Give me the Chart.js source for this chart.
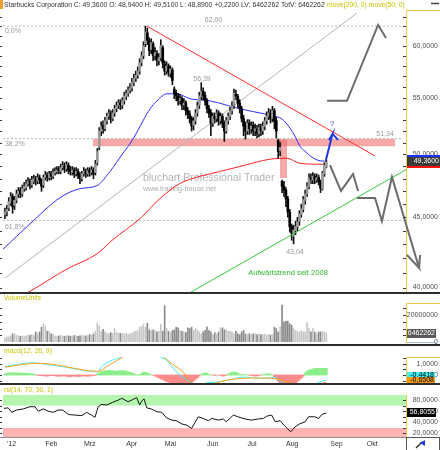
<!DOCTYPE html>
<html><head><meta charset="utf-8">
<script src="https://cdn.jsdelivr.net/npm/chart.js@4.4.1/dist/chart.umd.min.js"></script>
<style>
html,body{margin:0;padding:0;background:#fff;overflow:hidden}
#wrap{position:relative;width:440px;height:450px;background:#fff;overflow:hidden}
#wrap canvas{position:absolute;left:0}
.sep{position:absolute;left:0;width:440px;background:#2e2e2e}
</style></head><body>
<div id="wrap">
<canvas id="cMain" width="440" height="293" style="top:0px"></canvas>
<canvas id="cVol" width="440" height="50" style="top:294px"></canvas>
<canvas id="cMacd" width="440" height="38" style="top:346px"></canvas>
<canvas id="cRsi" width="440" height="65" style="top:385px"></canvas>
<div class="sep" style="top:292px;height:2px"></div>
<div class="sep" style="top:344px;height:2px"></div>
<div class="sep" style="top:383px;height:2px"></div>
</div>
<script>
// ================= DATA =================
const company = 'Starbucks Corporation';
const monthLabels = ["'12","Feb","Mrz","Apr","Mai","Jun","Jul","Aug","Sep","Okt"];
const monthStartIndex = [0,20,40,62,82,104,125,145,168,187];
const priceTicks = [40,45,50,55,60];
const priceMinorTicks = [40,41,42,43,44,45,46,47,48,49,50,51,52,53,54,55,56,57,58,59,60,61,62,63];
const volumeTicksMillions = [0,20];
const volumeMinorTicks = [0,5,10,15,20,25];
const macdTicks = [0,1];
const macdMinorTicks = [-0.5,0,0.5,1,1.5];
const rsiTicks = [20,40,60,80];
const rsiMinorTicks = [20,30,40,50,60,70,80];

const opens = [45.2,45.4,45.7,46.1,46.6,45.9,46.3,46.8,47.1,46.8,
47.2,47.3,47.6,47.8,47.5,47.8,48.0,47.8,48.1,47.9,
47.5,48.1,48.3,48.1,48.4,48.2,48.5,48.6,48.8,48.6,
48.9,49.1,48.8,49.1,48.7,48.5,48.7,48.4,48.6,48.3,
48.0,48.4,48.6,48.4,48.7,48.5,48.7,48.5,49.3,50.6,
52.0,52.5,52.2,52.9,53.3,53.6,53.1,53.6,54.0,54.3,
54.5,54.3,54.7,55.1,55.4,55.7,55.9,56.4,56.8,57.1,
57.5,58.3,59.0,60.2,61.3,60.5,59.6,60.2,59.0,59.2,
58.5,58.8,59.8,58.2,57.5,58.0,57.3,57.6,55.8,55.4,
55.1,54.7,54.9,54.3,54.5,53.8,53.5,53.1,52.5,52.9,
53.6,54.3,55.1,55.6,55.2,54.7,54.0,53.6,52.7,53.3,
53.1,53.6,52.9,53.3,52.7,52.0,52.9,53.3,53.8,54.3,
55.3,55.1,54.5,54.0,53.1,52.5,52.0,52.7,52.2,52.5,
52.0,52.2,51.8,52.3,52.0,52.4,52.9,53.3,53.6,53.1,
53.8,52.9,51.2,50.3,47.8,47.4,47.1,46.4,45.4,44.3,
43.6,44.0,44.3,44.7,45.2,45.6,46.3,46.8,47.4,48.1,
47.9,48.2,47.9,48.1,47.8,47.2,48.4,48.94];
const highs = [45.7,45.9,46.5,46.9,46.8,46.6,47.1,47.3,47.3,47.5,
47.7,47.9,48.1,48.0,48.2,48.3,48.2,48.4,48.3,48.0,
48.3,48.6,48.5,48.6,48.6,48.8,48.9,49.0,49.0,49.2,
49.4,49.3,49.4,49.3,49.0,49.0,48.9,48.9,48.8,48.5,
48.6,48.9,48.8,48.9,48.9,49.0,48.9,49.5,50.5,52.3,
52.8,52.9,53.2,53.6,53.9,53.8,53.9,54.3,54.6,54.8,
54.8,55.0,55.5,55.7,56.0,56.3,56.8,57.2,57.5,57.9,
58.7,59.4,60.4,62.0,61.8,60.8,60.7,60.4,59.8,59.5,
59.2,60.6,60.0,58.5,58.4,58.2,58.0,57.8,56.0,55.7,
55.4,55.3,55.1,54.9,54.7,54.1,53.8,53.3,53.2,53.9,
54.6,55.5,56.39,55.9,55.5,54.9,54.3,53.9,53.6,53.6,
53.9,53.8,53.6,53.5,52.9,53.2,53.6,54.1,54.6,55.8,
55.7,55.3,54.8,54.2,53.4,52.8,53.0,53.0,52.8,52.8,
52.6,52.5,52.6,52.6,52.8,53.2,53.7,54.0,53.9,54.2,
54.0,53.2,51.3,51.0,47.9,47.8,47.3,46.6,45.6,44.5,
44.4,44.7,45.0,45.5,46.0,46.6,47.1,47.7,48.4,48.4,
48.5,48.4,48.4,48.3,47.9,48.6,49.3,49.51];
const lows = [44.9,45.1,45.5,45.9,45.3,45.6,46.1,46.5,46.5,46.6,
47.0,47.1,47.4,47.2,47.3,47.6,47.5,47.6,47.6,47.0,
47.3,47.9,47.8,47.9,47.9,48.0,48.3,48.4,48.4,48.4,
48.7,48.5,48.6,48.4,48.3,48.3,48.1,48.2,48.0,47.6,
47.8,48.2,48.1,48.2,48.2,48.3,48.0,48.3,49.1,50.4,
51.6,51.8,52.0,52.6,53.0,52.7,52.9,53.3,53.7,54.0,
53.9,54.0,54.4,54.8,55.1,55.4,55.6,56.1,56.5,56.8,
57.2,58.0,58.7,59.9,60.1,59.0,59.2,58.5,58.6,58.0,
58.1,58.5,57.8,57.1,57.2,57.0,56.9,56.2,54.9,54.7,
54.3,54.4,53.9,53.9,53.4,53.1,52.7,52.0,52.1,52.6,
53.3,54.0,54.8,54.8,54.3,53.6,53.2,51.6,52.4,52.7,
52.8,52.5,52.6,52.3,51.1,51.8,52.6,53.0,53.5,54.0,
54.8,54.1,53.6,52.8,51.6,51.3,51.7,51.7,51.8,51.6,
51.6,51.4,51.5,51.6,51.7,52.1,52.6,53.0,52.7,52.8,
52.2,51.4,49.7,49.9,46.9,46.6,45.8,45.0,43.9,43.3,
43.04,43.7,44.0,44.4,45.0,45.4,46.0,46.6,47.2,47.6,
47.6,47.6,47.7,47.5,46.9,47.1,48.2,48.89];
const closes = [45.4,45.6,46.2,46.6,45.8,46.3,46.8,47.0,46.8,47.2,
47.4,47.6,47.8,47.5,47.9,48.0,47.8,48.1,47.9,47.4,
48.1,48.3,48.1,48.4,48.2,48.5,48.6,48.7,48.65,48.9,
49.1,48.8,49.15,48.7,48.6,48.7,48.4,48.6,48.3,48.0,
48.4,48.6,48.4,48.65,48.5,48.7,48.4,49.2,50.25,52.0,
52.45,52.2,52.9,53.3,53.6,53.1,53.6,54.0,54.25,54.5,
54.35,54.7,55.15,55.4,55.7,55.9,56.4,56.8,57.1,57.5,
58.3,59.0,60.0,61.4,60.55,59.5,60.3,59.0,59.3,58.5,
58.8,60.0,58.3,57.5,58.0,57.4,57.7,56.6,55.4,55.15,
54.7,54.9,54.25,54.5,53.8,53.5,53.1,52.45,52.9,53.6,
54.25,55.15,55.6,55.15,54.7,54.0,53.6,52.7,53.3,53.1,
53.6,52.9,53.3,52.7,52.0,52.9,53.3,53.8,54.25,55.4,
55.15,54.5,54.0,53.1,52.45,52.0,52.7,52.2,52.45,52.0,
52.2,51.8,52.3,52.0,52.45,52.9,53.3,53.6,53.1,53.8,
52.9,52.0,50.25,50.6,47.4,47.1,46.4,45.4,44.3,43.8,
44.05,44.3,44.65,45.25,45.65,46.35,46.8,47.4,48.1,47.95,
48.2,47.95,48.1,47.8,47.25,48.45,49.14,49.36];
const volumesMillions = [3.0,3.8,3.8,4.5,6.0,6.2,5.0,4.5,4.3,4.5,
4.3,4.5,4.8,5.0,5.5,5.0,7.5,6.2,7.5,11.0,
13.5,12.0,8.0,8.0,6.0,5.5,4.5,4.0,4.5,5.0,
4.5,4.3,4.8,4.5,4.3,4.5,4.8,4.5,4.3,4.5,
4.8,4.7,4.5,5.0,5.5,5.0,6.0,8.0,14.0,12.0,
8.0,9.5,7.5,6.5,6.0,7.0,6.5,10.0,7.0,6.5,
6.5,6.5,6.0,6.5,5.5,6.0,6.5,7.5,8.0,8.5,
11.0,11.5,13.0,11.0,14.0,9.0,8.5,9.0,8.5,7.5,
8.0,13.0,8.0,27.0,10.0,8.0,7.0,8.5,9.0,11.0,
10.5,8.7,8.0,7.5,7.0,10.5,10.0,11.0,8.7,10.0,
9.0,7.5,6.2,7.5,8.7,11.2,8.7,7.5,5.5,7.0,
6.0,7.5,10.5,10.5,9.2,8.7,8.0,8.0,7.5,6.0,
8.0,6.2,5.5,7.5,8.7,6.0,5.5,6.2,5.5,6.0,
6.2,5.5,6.0,5.5,5.5,6.0,5.0,5.5,5.2,5.5,
11.0,10.0,7.5,11.5,27.5,15.0,15.5,15.5,13.5,12.5,
10.0,8.7,8.0,7.0,8.7,7.5,7.5,14.5,10.0,7.5,
10.0,7.5,6.2,7.5,7.5,8.0,7.5,6.462262];
// moving averages, [day index, price]
const ma50Points = [[-1,42.65],[13,44.5],[28.6,46.5],[39,47.21],[47.8,47.45],[54.6,48.59],[61.3,50.09],[66.5,51.29],[71.7,52.88],[75.4,53.97],[79,54.7],[84.2,55.35],[89.4,55.35],[96.2,54.89],[106.5,54.7],[122.1,53.97],[135.1,53.51],[139.3,53.33],[144,53.06],[148.1,52.26],[150.7,51.56],[153.3,50.69],[155.9,50.27],[159.6,49.76],[162.7,49.51],[167,49.43]];
const ma200Points = [[0,38.9],[12,39.67],[32.2,41.26],[47.8,42.32],[56.1,43.34],[70.2,44.9],[80.6,46.44],[91,47.63],[101.4,48.2],[111.7,48.59],[122.1,49.0],[137.7,49.6],[146.6,49.68],[153.3,49.26],[165.3,49.18],[167,49.17]];
// drawn analysis: trend lines, levels, zones, forecasts ([day index, price])
const longTrend = [[0,40.64],[182.95,63.38]];
const resistanceTrend = [[73.8,62.0],[192.3,49.87]];
const supportTrend = [[95,39.57],[208.4,48.74]];
const fibLevels = [62.00, 51.34, 44.76];
const fibLabels = ['0,0%','38,2%','61,8%'];
const resistanceZone = {from:45.7, to:202.7, low:50.7, high:51.34};
const gapZone = {from:142.9, to:146.6, low:48.06, high:51.23};
const forecastUp = [[167.4,54.7],[177.75,54.7],[193.9,62.12],[198,60.78]];
const forecastMid = [[168.9,49.12],[174.6,47.03],[180.9,48.39],[183.5,47.03]];
const forecastDown = [[182.95,46.48],[192.3,46.48],[195.9,44.72],[201.1,48.14],[215.2,41.33],[208.9,42.24],[215.2,41.33],[215.7,42.24]];
const blueArrow = [[166.8,49.54],[170.2,51.75],[168.4,51.23],[170.2,51.75],[173.1,51.23]];
// indicators
const macdPoints = [[0,0.76],[8,1.0],[15,1.12],[20,1.0],[32,0.7],[42,0.39],[48,0.3],[51,0.9],[56,1.36],[61.5,1.73],[66,2.6],[72,3.2],[76,2.8],[80,1.73],[84,1.36],[89,0.3],[94.5,-0.45],[98,-0.8],[102,-0.9],[105,-0.7],[110,-0.65],[115,-0.5],[119,-0.35],[122,-0.2],[126,-0.2],[130,-0.28],[136,-0.28],[140,-0.2],[143,-0.5],[147,-1.0],[152,-1.4],[158,-1.0],[162,-0.75],[165,-0.55],[167,-0.4418]];
const signalPoints = [[0,0.7],[15,1.05],[22,1.02],[29,0.85],[41,0.45],[48,0.33],[55,1.0],[62,1.73],[66,2.3],[72,2.8],[78,2.6],[82,1.73],[87,1.0],[93,0.2],[97,-0.8],[101,-1.0],[106,-0.9],[112,-0.6],[118,-0.4],[124,-0.3],[130,-0.28],[136,-0.28],[141,-0.35],[145,-0.55],[150,-0.8],[155,-1.0],[160,-0.95],[165,-0.75],[167,-0.6508]];
const macdHistogram = [0.12,0.15,0.18,0.2,0.2,0.18,0.2,0.2,0.18,0.18,0.16,0.15,0.14,0.12,0.1,0.08,0.05,
-0.03,-0.05,-0.06,-0.08,-0.1,-0.1,-0.08,-0.06,-0.05,-0.08,-0.1,-0.12,-0.1,-0.08,-0.1,-0.12,-0.15,-0.15,-0.12,-0.1,-0.12,-0.15,-0.12,-0.1,-0.08,-0.1,-0.12,-0.1,-0.08,-0.05,-0.03,
0.1,0.2,0.3,0.35,0.38,0.4,0.42,0.4,0.38,0.36,0.35,0.38,0.4,0.4,0.38,0.35,0.3,0.25,0.2,0.12,0.05,
0.0,0.05,0.15,0.25,0.25,0.2,0.1,0.02,-0.02,
-0.1,-0.18,-0.26,-0.34,-0.42,-0.5,-0.58,-0.64,-0.7,-0.8,-0.9,-1.0,-1.0,-1.0,-0.95,-0.9,-0.85,-0.8,-0.75,-0.7,-0.55,-0.4,-0.25,-0.1,
0.05,0.15,0.2,0.15,0.05,
0,-0.02,-0.03,-0.02,0,
-0.05,-0.1,-0.08,-0.03,
0.08,0.18,0.25,0.28,0.25,0.18,0.08,
0.02,0.05,0.03,0,-0.02,
-0.05,-0.08,-0.1,-0.08,-0.05,-0.02,
0.03,0.08,0.12,0.12,0.08,0.03,
-0.15,-0.35,-0.55,-0.75,-0.9,-1.0,-1.0,-1.0,-1.0,-0.95,-0.9,-0.8,-0.6,-0.45,-0.3,-0.12,
0.2,0.35,0.45,0.5,0.55,0.6,0.6,0.6,0.6,0.6,0.6,0.6];
const rsiPoints = [[-0.5,65],[1.7,66],[3.5,58],[6,62],[9.5,64],[13,68],[15.6,68],[17.3,60],[20,64],[22.5,60],[25,58],[27.7,62],[30,62],[33,54],[36.4,53],[40,52],[42.5,58],[45,53],[46.8,49],[48.5,68],[50,72],[53,71],[56,76],[59,80],[60.7,83],[64,77],[66,80],[67.6,83],[68.5,84],[70,71],[71,78],[72.3,82],[73.7,66],[76,64],[79,59],[81.5,58],[84,48],[86.7,44],[89,43],[92,37],[94.5,35],[97,29],[98.8,40],[100.5,50],[103,47],[105.7,43],[107.5,47],[111,44],[113.5,46],[115,41],[118.7,53],[121,50],[124.8,46],[128,44],[131.7,46],[134.3,47],[136,51],[138.6,53],[140.4,41],[143,43],[145,35],[147,28],[148.5,23],[150.8,32],[153,37],[156,41],[157.7,50],[161,50],[163,47],[164.6,54],[167,56.8055]];
const rsiUpper = 70, rsiLower = 30;
const lastMacd = -0.4418, lastSignal = -0.6508;

// ================= HELPERS =================
const FONT = '"Liberation Sans", Arial, sans-serif';
Chart.defaults.font.family = FONT;
Chart.defaults.font.size = 7;
const X_MIN = -1, X_MAX = 208.4;
const N = closes.length;
const dayIdx = closes.map((_, i) => i);
const fmt = (v, d) => v.toFixed(d).replace('.', ',');
const pts = arr => arr.map(([x, y]) => ({x, y}));
const mctx = document.createElement('canvas').getContext('2d');
function textW(s, size) { mctx.font = size + 'px ' + FONT; return mctx.measureText(s).width; }
function fitSize(s, w) { return 7 * w / textW(s, 7); }
function txt(ctx, s, x, y, o) {
  o = o || {};
  ctx.save();
  ctx.font = (o.w || '') + ' ' + (o.s || 7) + 'px ' + FONT;
  ctx.fillStyle = o.c || '#999';
  ctx.textAlign = o.a || 'left';
  ctx.textBaseline = 'middle';
  ctx.fillText(s, x, y);
  ctx.restore();
}
function noPad(s) { s.paddingTop = 0; s.paddingBottom = 0; s.paddingLeft = 0; s.paddingRight = 0; }
function xAxis(show) {
  return {type:'linear', min:X_MIN, max:X_MAX, display:show, offset:false,
    grid:{display:false, drawTicks:false}, border:{display:false}};
}
function rightAxis(o) {
  const pad = 32 - textW(o.widest, 7) - 1.5;
  return {
    type: o.type || 'linear', position:'right', min:o.min, max:o.max,
    afterBuildTicks: s => { s.ticks = o.ticks.map(v => ({value:v})); },
    afterFit: s => { s.width = 32; noPad(s); },
    ticks: {callback: o.fmt, color:'#505050', font:{size:7}, crossAlign:'far', padding:pad, autoSkip:false},
    grid: {display:false, drawTicks:false},
    border: {display:true, color:'#efc84a', width:1}
  };
}
function baseOpts(pad, scales) {
  return {responsive:false, animation:false, devicePixelRatio:1,
    layout:{padding:pad},
    plugins:{legend:{display:false}, tooltip:{enabled:false}},
    scales: scales};
}
function lineDs(points, color, width, extra) {
  return Object.assign({type:'line', data:pts(points), borderColor:color, borderWidth:width,
    pointRadius:0, fill:false, tension:0}, extra || {});
}
function zoneDs(z, color, order) {
  return [
    {type:'line', data:pts([[z.from, z.high],[z.to, z.high]]), fill:'+1', backgroundColor:color,
      borderColor:'rgba(0,0,0,0)', borderWidth:0, pointRadius:0, order:order},
    {type:'line', data:pts([[z.from, z.low],[z.to, z.low]]), fill:false,
      borderColor:'rgba(0,0,0,0)', borderWidth:0, pointRadius:0, order:order+1}
  ];
}
function sideTicks(chart, vals) {
  const {ctx, chartArea:ca, scales:{y}} = chart;
  ctx.save(); ctx.strokeStyle = '#3a3a3a'; ctx.lineWidth = 1; ctx.beginPath();
  vals.forEach(v => {
    const py = Math.round(y.getPixelForValue(v)) + 0.5;
    if (py < ca.top || py > ca.bottom) return;
    ctx.moveTo(0, py); ctx.lineTo(2, py);
    ctx.moveTo(ca.right - 3, py); ctx.lineTo(ca.right, py);
  });
  ctx.stroke(); ctx.restore();
}
function yellowTop(chart) {
  const {ctx, chartArea:ca} = chart;
  ctx.save(); ctx.strokeStyle = '#efc84a'; ctx.lineWidth = 1;
  ctx.beginPath(); ctx.moveTo(ca.right, ca.top + 0.5); ctx.lineTo(440, ca.top + 0.5); ctx.stroke(); ctx.restore();
}
function box(ctx, x0, x1, cy, h, bg, fg, label) {
  ctx.save(); ctx.fillStyle = bg; ctx.fillRect(x0, Math.round(cy - h / 2), x1 - x0, h); ctx.restore();
  txt(ctx, label, x1 - 1, Math.round(cy - h / 2) + h / 2, {c:fg, a:'right', s:7});
}

// ================= MAIN PRICE PANEL =================
const mainNotes = [
  {t:'62,00', x:108.4, y:62.67, a:'center'},
  {t:fibLabels[0], x:0, y:61.5},
  {t:fibLabels[1], x:0, y:50.89},
  {t:fibLabels[2], x:0, y:44.27},
  {t:'56,39', x:102.4, y:56.73, a:'center'},
  {t:'51,34', x:197.5, y:51.75, a:'center'},
  {t:'43,04', x:150.7, y:42.45, a:'center'},
  {t:'?', x:170, y:52.62, a:'center', c:'#2a3fe0', s:8},
  {t:'Aufwärtstrend seit 2008', x:147.1, y:40.98, a:'center', c:'#2cb82c', s:7.6}
];
const watermark = [
  {t:'bluchart Professional Trader', x:71.7, y:48.06, s:10.5, c:'#b4b4b4'},
  {t:'www.trading-house.net', x:71.7, y:47.19, s:7.2, c:'#ababab'}
];
const lastVolume = Math.round(volumesMillions[N - 1] * 1e6);
const mainDecor = {
  id:'mainDecor',
  beforeDatasetsDraw(chart) {
    const {ctx, scales:{x, y}} = chart;
    watermark.forEach(w => txt(ctx, w.t, x.getPixelForValue(w.x), y.getPixelForValue(w.y), w));
  },
  afterDraw(chart) {
    const {ctx, chartArea:ca, scales:{x, y}} = chart;
    mainNotes.forEach(n => txt(ctx, n.t, x.getPixelForValue(n.x), y.getPixelForValue(n.y), n));
    // title row
    ctx.save(); ctx.fillStyle = '#f0a030'; ctx.fillRect(0, 0, 3, 9); ctx.restore();
    const chg = closes[N - 1] - closes[N - 2];
    const t1 = company + ' C: ' + fmt(closes[N - 1], 4) + ' O: ' + fmt(opens[N - 1], 4) + ' H: ' + fmt(highs[N - 1], 4) +
      ' L: ' + fmt(lows[N - 1], 4) + ' ' + (chg >= 0 ? '+' : '') + fmt(chg, 4) + ' LV: ' + lastVolume + ' TotV: ' + lastVolume;
    const t2 = 'move(200, 0) move(50, 0)';
    const fs = fitSize(t1, 321);
    txt(ctx, t1, 4, 5, {c:'#333', s:fs});
    txt(ctx, t2, 327, 5, {c:'#c8c200', s:fitSize(t2, 78)});
    ctx.save(); ctx.strokeStyle = '#444'; ctx.lineWidth = 1.5; ctx.beginPath(); ctx.moveTo(431, 3.5); ctx.lineTo(439, 3.5); ctx.stroke(); ctx.restore();
    yellowTop(chart);
    sideTicks(chart, priceMinorTicks);
    // last price marker
    const cy = Math.round(y.getPixelForValue(closes[N - 1]));
    ctx.save();
    ctx.fillStyle = '#2030ff'; ctx.fillRect(407, cy - 7, 33, 2);
    ctx.fillStyle = '#ff1010'; ctx.fillRect(407, cy + 4, 33, 2);
    ctx.restore();
    box(ctx, 407, 440, cy - 0.5, 9, '#3c3c3c', '#fff', fmt(closes[N - 1], 4));
  }
};
const mainDatasets = [].concat(
  zoneDs(resistanceZone, 'rgba(240,105,105,0.58)', 40),
  zoneDs(gapZone, 'rgba(240,105,105,0.58)', 38),
  fibLevels.map(v => lineDs([[X_MIN, v], [207, v]], '#b9b9b9', 1, {borderDash:[2, 2], order:35})),
  [
    lineDs(longTrend, '#b4b4b4', 1, {order:34}),
    lineDs(ma200Points, '#ff2020', 1, {cubicInterpolationMode:'monotone', order:30}),
    lineDs(ma50Points, '#2e2eff', 1, {cubicInterpolationMode:'monotone', order:29}),
    {type:'bar', data:dayIdx.map(i => ({x:i, y:[lows[i], highs[i]]})), backgroundColor:'#111',
      barThickness:1, grouped:false, order:12},
    {type:'bar', data:dayIdx.map(i => ({x:i, y:[opens[i], closes[i]]})),
      backgroundColor:dayIdx.map(i => closes[i] >= opens[i] ? '#9a9a9a' : '#000'),
      barThickness:2, minBarLength:1, grouped:false, order:11},
    lineDs(resistanceTrend, '#ff2b2b', 1, {order:6}),
    lineDs(supportTrend, '#38c838', 1, {order:6}),
    lineDs(forecastUp, '#6c6c6c', 2, {order:4}),
    lineDs(forecastMid, '#6c6c6c', 2, {order:4}),
    lineDs(forecastDown, '#6c6c6c', 2, {order:4, clip:false}),
    lineDs(blueArrow, '#2038e0', 2, {order:3})
  ]
);
new Chart(document.getElementById('cMain'), {
  type:'bar',
  data:{datasets:mainDatasets},
  options:baseOpts({left:3, right:2, top:10, bottom:1}, {
    x:xAxis(false),
    y:rightAxis({type:'logarithmic', min:39.7, max:63.7, ticks:priceTicks, fmt:v => fmt(v, 4), widest:'60,0000'})
  }),
  plugins:[mainDecor]
});

// ================= VOLUME PANEL =================
const volDecor = {
  id:'volDecor',
  afterDraw(chart) {
    const {ctx, chartArea:ca, scales:{y}} = chart;
    txt(ctx, 'VolumeUnits', 4, 4.5, {c:'#c8c200', s:fitSize('VolumeUnits', 37)});
    yellowTop(chart);
    sideTicks(chart, volumeMinorTicks);
    ctx.save(); ctx.strokeStyle = '#a8c0ee'; ctx.beginPath(); ctx.moveTo(407, ca.bottom + 0.5); ctx.lineTo(438, ca.bottom + 0.5); ctx.stroke(); ctx.restore();
    box(ctx, 407, 436, y.getPixelForValue(volumesMillions[N - 1]), 9, '#5a5a5a', '#fff', String(lastVolume));
  }
};
new Chart(document.getElementById('cVol'), {
  type:'bar',
  data:{datasets:[{data:dayIdx.map(i => ({x:i, y:volumesMillions[i]})),
    backgroundColor:dayIdx.map(i => closes[i] >= opens[i] ? '#c6c6c6' : '#8a8a8a'),
    barThickness:1, grouped:false}]},
  options:baseOpts({left:3, right:2, top:9, bottom:2}, {
    x:xAxis(false),
    y:rightAxis({min:0, max:29, ticks:volumeTicksMillions, fmt:v => v === 0 ? '0' : String(Math.round(v * 1e6)), widest:'20000000'})
  }),
  plugins:[volDecor]
});

// ================= MACD PANEL =================
const macdDecor = {
  id:'macdDecor',
  afterDraw(chart) {
    const {ctx, chartArea:ca, scales:{y}} = chart;
    txt(ctx, 'macd(12, 26, 9)', 4, 5, {c:'#c8c200', s:fitSize('macd(12, 26, 9)', 48)});
    yellowTop(chart);
    sideTicks(chart, macdMinorTicks);
    const oy = Math.min(y.getPixelForValue(lastSignal), ca.bottom - 3);
    const cyv = Math.min(y.getPixelForValue(lastMacd), oy - 5);
    box(ctx, 407, 435, cyv, 7, '#40eeee', '#000', fmt(lastMacd, 4));
    box(ctx, 407, 435, oy, 7, '#f39a1c', '#000', fmt(lastSignal, 4));
  }
};
new Chart(document.getElementById('cMacd'), {
  type:'bar',
  data:{datasets:[
    {type:'bar', data:dayIdx.map(i => ({x:i, y:macdHistogram[i]})),
      backgroundColor:dayIdx.map(i => macdHistogram[i] >= 0 ? '#8aee8a' : '#ff8a8a'),
      barThickness:2, grouped:false, order:5},
    lineDs(macdPoints, '#3ff0f0', 1, {cubicInterpolationMode:'monotone', order:2}),
    lineDs(signalPoints, '#ff9f1a', 1, {cubicInterpolationMode:'monotone', order:1})
  ]},
  options:baseOpts({left:3, right:2, top:11, bottom:1}, {
    x:xAxis(false),
    y:rightAxis({min:-0.727, max:1.636, ticks:macdTicks, fmt:v => v === 0 ? '0' : fmt(v, 4), widest:'1,0000'})
  }),
  plugins:[macdDecor]
});

// ================= RSI PANEL =================
const rsiDecor = {
  id:'rsiDecor',
  afterDraw(chart) {
    const {ctx, chartArea:ca, scales:{y}} = chart;
    txt(ctx, 'rsi(14, 70, 30, 1)', 4, 5, {c:'#c8c200', s:fitSize('rsi(14, 70, 30, 1)', 49)});
    sideTicks(chart, rsiMinorTicks);
    const last = rsiPoints[rsiPoints.length - 1][1];
    box(ctx, 407, 436, y.getPixelForValue(last), 9, '#000', '#fff', fmt(last, 4));
    ctx.save();
    ctx.strokeStyle = '#8c8c8c'; ctx.lineWidth = 1;
    ctx.beginPath(); ctx.moveTo(0, ca.bottom + 0.5); ctx.lineTo(440, ca.bottom + 0.5); ctx.stroke();
    ctx.strokeStyle = '#555';
    ctx.strokeRect(406.5, ca.bottom + 0.5, 33, 13);
    ctx.strokeStyle = '#222'; ctx.lineWidth = 1.2;
    ctx.beginPath(); ctx.moveTo(416, 63); ctx.lineTo(422, 57); ctx.stroke();
    ctx.fillStyle = '#1a3ad0';
    ctx.beginPath(); ctx.moveTo(420, 58); ctx.lineTo(425, 55); ctx.lineTo(425, 61); ctx.closePath(); ctx.fill();
    ctx.restore();
  }
};
new Chart(document.getElementById('cRsi'), {
  type:'line',
  data:{datasets:[
    lineDs([[X_MIN, 89], [X_MAX, 89]], 'rgba(0,0,0,0)', 0, {fill:{value:rsiUpper}, backgroundColor:'#b4f6ae', order:10}),
    lineDs([[X_MIN, rsiLower], [X_MAX, rsiLower]], 'rgba(0,0,0,0)', 0, {fill:'start', backgroundColor:'#ffb3b3', order:9}),
    lineDs(rsiPoints, '#151515', 1, {order:1})
  ]},
  options:baseOpts({left:3, right:2, top:10, bottom:0}, {
    x:{type:'linear', min:X_MIN, max:X_MAX, position:'bottom', offset:false,
      afterBuildTicks:s => { s.ticks = monthStartIndex.map(v => ({value:v})); },
      afterFit:s => { s.height = 13; noPad(s); },
      ticks:{callback:v => monthLabels[monthStartIndex.indexOf(v)], align:'start', labelOffset:2,
        padding:3, color:'#333', font:{size:7}, maxRotation:0, minRotation:0, autoSkip:false},
      grid:{display:false, drawTicks:false}, border:{display:false}},
    y:rightAxis({min:13.7, max:89, ticks:rsiTicks, fmt:v => fmt(v, 4), widest:'80,0000'})
  }),
  plugins:[rsiDecor]
});
</script>
</body></html>
